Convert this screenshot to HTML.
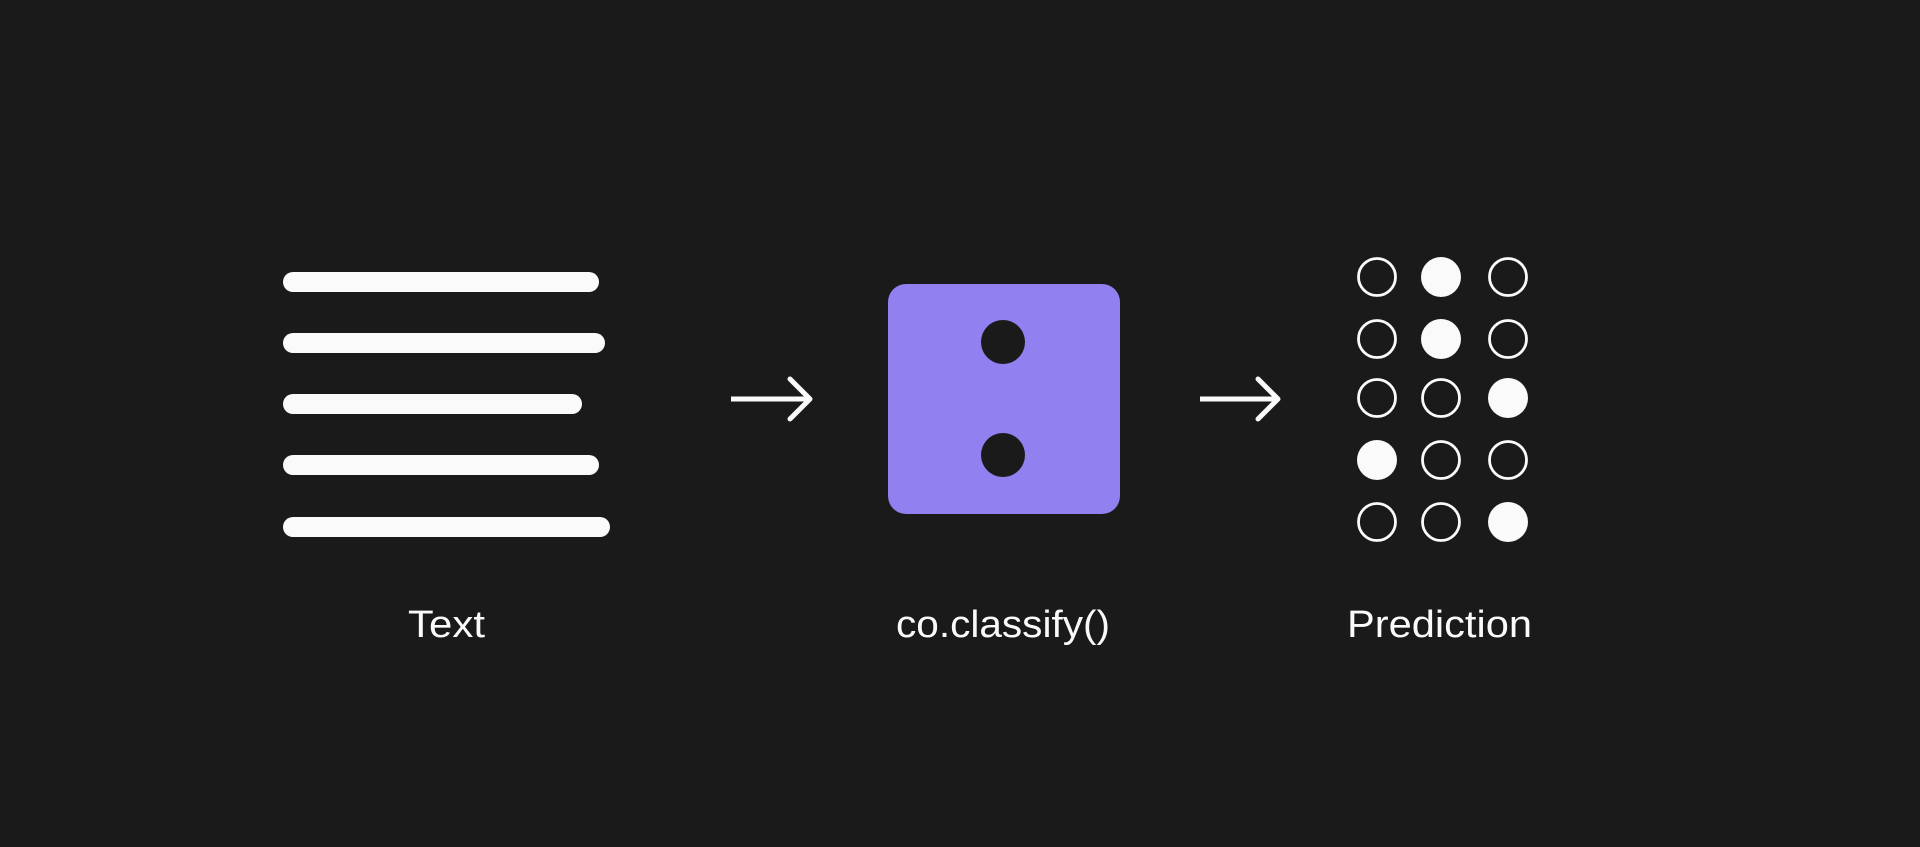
<!DOCTYPE html>
<html><head><meta charset="utf-8"><style>
html,body{margin:0;padding:0;background:#1a1a1a;}
svg{display:block}
</style></head><body>
<svg width="1920" height="847" viewBox="0 0 1920 847" xmlns="http://www.w3.org/2000/svg">
<rect width="1920" height="847" fill="#1a1a1a"/>
<g stroke="#fafafa" stroke-width="20" stroke-linecap="round">
<line x1="293" y1="282" x2="589" y2="282"/>
<line x1="293" y1="343" x2="595" y2="343"/>
<line x1="293" y1="404" x2="572" y2="404"/>
<line x1="293" y1="465" x2="589" y2="465"/>
<line x1="293" y1="527" x2="600" y2="527"/>
</g>
<g stroke="#fafafa" stroke-width="5" fill="none">
<line x1="731" y1="399" x2="808" y2="399"/>
<polyline points="790,379 810,399 790,419" stroke-linecap="round" stroke-linejoin="round"/>
<line x1="1200" y1="399" x2="1277" y2="399"/>
<polyline points="1258,379 1278,399 1258,419" stroke-linecap="round" stroke-linejoin="round"/>
</g>
<rect x="888" y="284" width="232" height="230" rx="18" fill="#9180f0"/>
<circle cx="1003" cy="342" r="22" fill="#1a1a1a"/>
<circle cx="1003" cy="455" r="22" fill="#1a1a1a"/>
<g stroke="#fafafa" stroke-width="2.8" fill="none">
<circle cx="1377" cy="277" r="18.5"/><circle cx="1508" cy="277" r="18.5"/>
<circle cx="1377" cy="339" r="18.5"/><circle cx="1508" cy="339" r="18.5"/>
<circle cx="1377" cy="398" r="18.5"/><circle cx="1441" cy="398" r="18.5"/>
<circle cx="1441" cy="460" r="18.5"/><circle cx="1508" cy="460" r="18.5"/>
<circle cx="1377" cy="522" r="18.5"/><circle cx="1441" cy="522" r="18.5"/>
</g>
<g fill="#fafafa">
<circle cx="1441" cy="277" r="20"/>
<circle cx="1441" cy="339" r="20"/>
<circle cx="1508" cy="398" r="20"/>
<circle cx="1377" cy="460" r="20"/>
<circle cx="1508" cy="522" r="20"/>
</g>
<g fill="#fafafa" font-family="Liberation Sans, sans-serif" font-size="38">
<text x="408" y="637" textLength="77" lengthAdjust="spacingAndGlyphs">Text</text>
<text x="896" y="637" textLength="214" lengthAdjust="spacingAndGlyphs">co.classify()</text>
<text x="1347" y="637" textLength="185" lengthAdjust="spacingAndGlyphs">Prediction</text>
</g>
</svg>
</body></html>
